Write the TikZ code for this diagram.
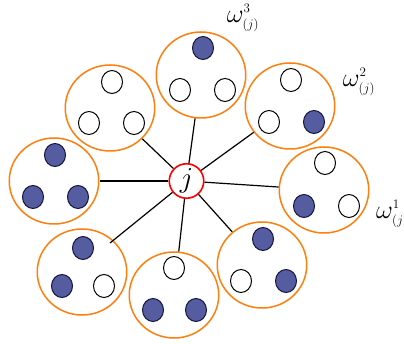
\RequirePackage{fix-cm}
\documentclass[tikz,border=0pt]{standalone}
\usetikzlibrary{shapes.geometric}
\definecolor{ring}{RGB}{255,127,14}
\definecolor{fillb}{RGB}{86,92,160}
\definecolor{navy}{RGB}{18,20,64}
\begin{document}
\begin{tikzpicture}[x=1pt,y=-1pt,
  group/.style={ellipse,draw=ring,line width=1.5pt,minimum width=89.5pt,minimum height=86pt,inner sep=0pt},
  ball/.style={ellipse,draw=black,line width=1pt,minimum width=21pt,minimum height=23pt,inner sep=0pt},
  full/.style={ball,fill=fillb,draw=navy},
  hub/.style={circle,draw=red,fill=white,line width=1.6pt,minimum size=34.5pt,inner sep=0pt,font=\fontsize{29}{29}\selectfont},
  link/.style={line width=1.2pt},
  lab/.style={font=\fontsize{26}{26}\selectfont,inner sep=0pt}]
\clip (0,0) rectangle (404,344);
\fill[white] (0,0) rectangle (404,344);
% groups
\node[group] (gT)  at (201,75) {};
\node[group] (gUR) at (290,106) {};
\node[group] (gR)  at (324,190) {};
\node[group] (gLR) at (262,265) {};
\node[group] (gB)  at (174,295) {};
\node[group] (gLL) at (82,272) {};
\node[group] (gL)  at (54,181) {};
\node[group] (gUL) at (110,108) {};
% balls
\node[full] (t1) at (203,48) {};
\node[ball] (t2) at (180,90) {};
\node[ball] (t3) at (225,90) {};
\node[ball] (ur1) at (291,80) {};
\node[ball] (ur2) at (269,122) {};
\node[full] (ur3) at (314,122) {};
\node[ball] (r1) at (325,163) {};
\node[full] (r2) at (304,206) {};
\node[ball] (r3) at (349,206) {};
\node[full] (lr1) at (263,239) {};
\node[ball] (lr2) at (241,281) {};
\node[full] (lr3) at (286,281) {};
\node[ball] (b1) at (174,268) {};
\node[full] (b2) at (153,310) {};
\node[full] (b3) at (196,310) {};
\node[full] (ll1) at (83,248) {};
\node[full] (ll2) at (62,286) {};
\node[ball] (ll3) at (104,286) {};
\node[full] (l1) at (55,155) {};
\node[full] (l2) at (33,197) {};
\node[full] (l3) at (78,197) {};
\node[ball] (ul1) at (112,82) {};
\node[ball] (ul2) at (89,123) {};
\node[ball] (ul3) at (134,123) {};
% hub
\node[hub] (j) at (186.5,181) {$j$};
\coordinate (llend) at (110,243);
\draw[link] (j) -- (gT);
\draw[link] (j) -- (gUR);
\draw[link] (j) -- (gR);
\draw[link] (j) -- (gLR);
\draw[link] (j) -- (gB);
\draw[link] (j) -- (llend);
\draw[link] (j) -- (gL);
\draw[link] (j) -- (gUL);
% labels
\node[lab] (w3) at (243,18) {$\omega^{\scriptscriptstyle 3}_{\scriptscriptstyle (j)}$};
\node[lab] (w2) at (359,82) {$\omega^{\scriptscriptstyle 2}_{\scriptscriptstyle (j)}$};
\node[lab,anchor=west] (w1) at (376,214) {$\omega^{\scriptscriptstyle 1}_{\scriptscriptstyle (j)}$};
\end{tikzpicture}
\end{document}
